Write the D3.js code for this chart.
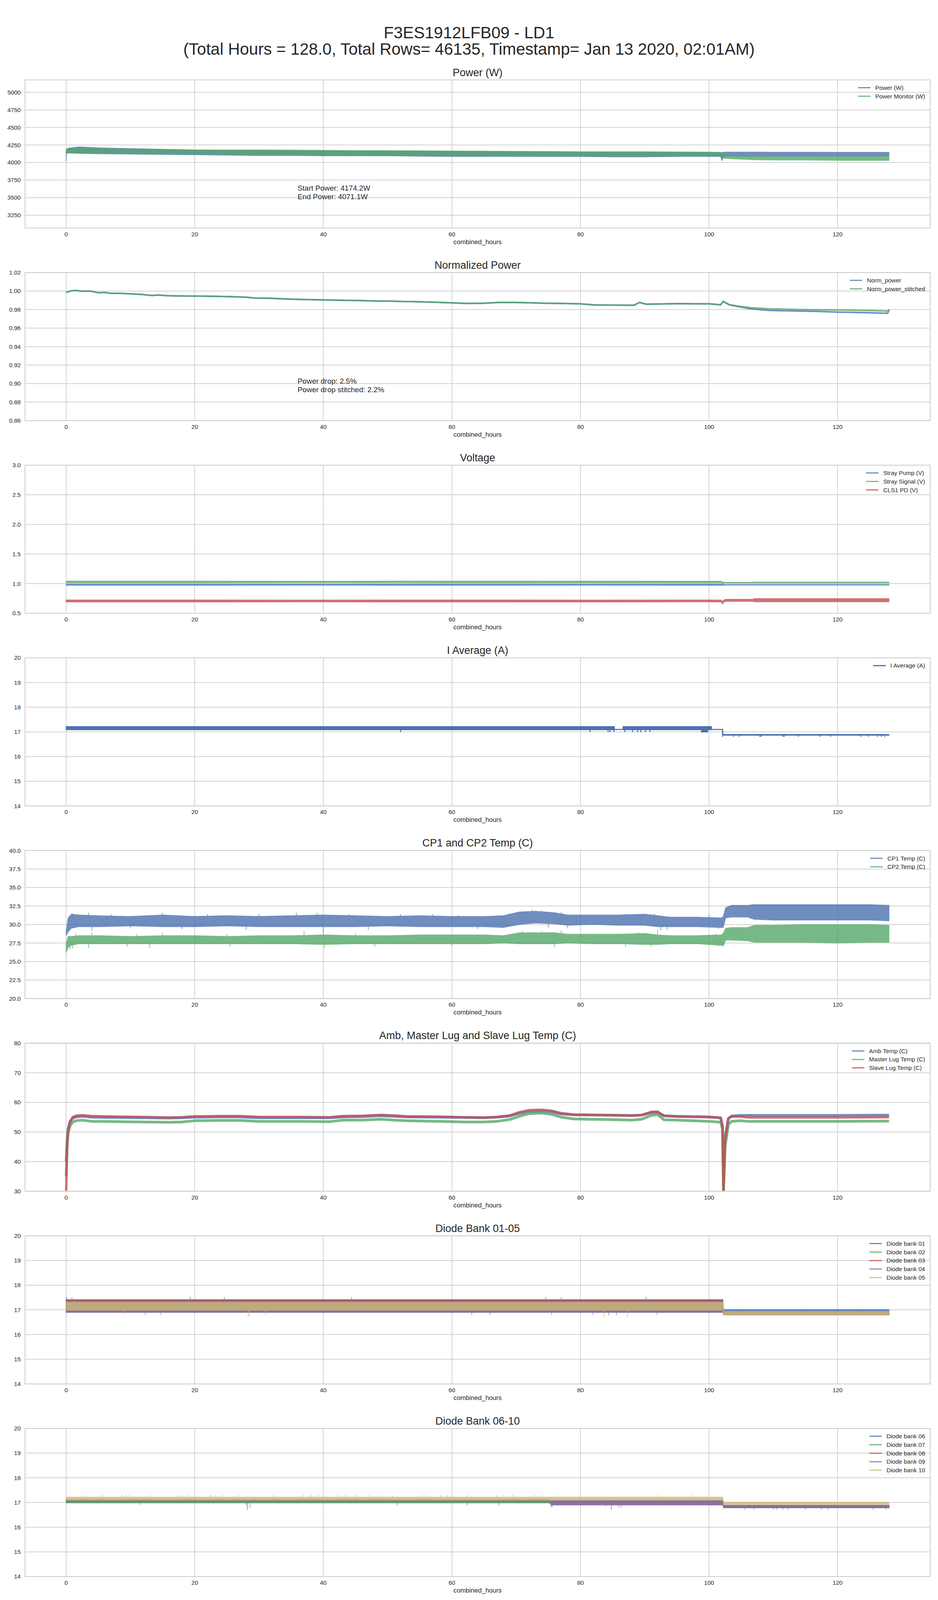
<!DOCTYPE html>
<html><head><meta charset="utf-8">
<script src="https://cdn.jsdelivr.net/npm/d3@7"></script>
<style>
html,body{margin:0;background:#fff;overflow:hidden;}
svg{display:block;}
text{font-family:"Liberation Sans",Arial,sans-serif;fill:#262626;}
</style>
</head><body>
<svg id="chart" width="2400" height="4800"></svg>
<script>
// ---------------- DATA ----------------
const SUPTITLE_1 = "F3ES1912LFB09 - LD1";
const SUPTITLE_2 = "(Total Hours = 128.0, Total Rows= 46135, Timestamp= Jan 13 2020, 02:01AM)";
const X_TICKS = [0, 20, 40, 60, 80, 100, 120];
const X_LABEL = "combined_hours";

// Panel 1: Power (W)  (noisy bands: low / high envelope)
const P_HOURS = [0,0.05,0.3,2,5,10,15,20,25,30, 35,40,45,50,55,60,65,70,75,80, 85,90,95,100,101.8,102.0,102.3,104,107,110, 115,120,125,128];
const POWER_LO = [4020,4130,4135,4130,4125,4120,4115,4110,4105,4100, 4100,4095,4095,4095,4090,4085,4085,4085,4085,4085, 4080,4080,4085,4085,4085,4028,4090,4090,4090,4090, 4090,4090,4090,4090];
const POWER_HI = [4160,4190,4205,4225,4210,4200,4190,4180,4175,4175, 4170,4170,4165,4165,4165,4160,4160,4155,4155,4150, 4150,4150,4145,4145,4145,4140,4150,4150,4150,4148, 4148,4146,4146,4145];
const MON_LO = [4130,4135,4140,4140,4135,4130,4128,4125,4120,4115, 4112,4110,4108,4105,4102,4100,4098,4095,4095,4095, 4095,4095,4095,4095,4095,4090,4060,4050,4040,4035, 4035,4030,4030,4030];
const MON_HI = [4150,4170,4195,4200,4195,4190,4185,4180,4180,4180, 4178,4175,4172,4170,4168,4165,4162,4160,4158,4155, 4155,4155,4152,4150,4145,4140,4110,4100,4090,4085, 4085,4085,4085,4085];
const P_Y_TICKS = [3250,3500,3750,4000,4250,4500,4750,5000];
const P_ANNOT = ["Start Power: 4174.2W", "End Power: 4071.1W"];

// Panel 2: Normalized Power
const NP_HOURS = [0,0.8,1.6,2.5,3.7,5,6,7,8.3,10, 11.6,13.4,14.2,15.8,17,20,23.7,26,27.9,29.3, 31.6,34,36.2,40,43,45.5,48,50.2,52,54.8, 57,59.5,62.3,65,67.3,69.7,72,74.3,77,79.9, 82.3,85,88.3,89.2,90.2,92,95.3,98,100,101.8, 102.2,103.2,104.5,106.5,109.3,111,114,117,120,122, 124.7,127.8,128];
const NORM_POWER = [0.9985,1.0003,1.0006,0.9998,1.0000,0.9982,0.9985,0.9975,0.9976,0.9970, 0.9964,0.9952,0.9957,0.9950,0.9948,0.9946,0.9942,0.9938,0.9934,0.9924, 0.9922,0.9915,0.9910,0.9904,0.9900,0.9898,0.9893,0.9892,0.9888,0.9884, 0.9880,0.9874,0.9866,0.9868,0.9877,0.9877,0.9874,0.9868,0.9866,0.9862, 0.9850,0.9848,0.9846,0.9877,0.9858,0.9860,0.9864,0.9862,0.9862,0.9852, 0.9888,0.9850,0.9832,0.9808,0.9790,0.9788,0.9784,0.9780,0.9772,0.9770, 0.9766,0.9760,0.9800];
const NORM_STITCHED = [0.9985,1.0003,1.0006,0.9998,1.0000,0.9982,0.9985,0.9975,0.9976,0.9970, 0.9964,0.9952,0.9957,0.9950,0.9948,0.9946,0.9942,0.9938,0.9934,0.9924, 0.9922,0.9915,0.9910,0.9904,0.9900,0.9898,0.9893,0.9892,0.9888,0.9884, 0.9880,0.9874,0.9866,0.9868,0.9877,0.9877,0.9874,0.9868,0.9866,0.9862, 0.9850,0.9848,0.9846,0.9877,0.9858,0.9860,0.9864,0.9862,0.9862,0.9852, 0.9888,0.9852,0.9838,0.9820,0.9808,0.9806,0.9800,0.9798,0.9796,0.9794, 0.9790,0.9784,0.9800];
const NP_Y_TICKS = [0.86,0.88,0.90,0.92,0.94,0.96,0.98,1.00,1.02];
const NP_ANNOT = ["Power drop: 2.5%", "Power drop stitched: 2.2%"];

// Panel 3: Voltage
const V_HOURS = [0,0.2,20,40,60,80,100,101.9,102.1,102.3,102.6,106.8,107,128];
const STRAY_PUMP_LO = [0.972,0.972,0.972,0.973,0.972,0.973,0.972,0.972,0.970,0.975,0.975,0.975,0.975,0.975];
const STRAY_PUMP_HI = [0.992,0.993,0.993,0.992,0.993,0.992,0.993,0.992,0.990,0.986,0.986,0.986,0.986,0.986];
const STRAY_SIGNAL_LO = [1.015,1.015,1.015,1.016,1.015,1.015,1.015,1.015,1.000,1.012,1.012,1.012,1.012,1.012];
const STRAY_SIGNAL_HI = [1.040,1.044,1.044,1.043,1.044,1.044,1.043,1.043,1.030,1.024,1.024,1.024,1.027,1.027];
const CLS1_LO = [0.690,0.690,0.690,0.691,0.690,0.690,0.691,0.690,0.655,0.690,0.700,0.700,0.693,0.693];
const CLS1_HI = [0.726,0.726,0.726,0.725,0.726,0.725,0.726,0.724,0.700,0.725,0.737,0.737,0.749,0.749];
const V_Y_TICKS = [0.5,1.0,1.5,2.0,2.5,3.0];

// Panel 4: I Average (A)
const IA_HOURS = [0,85.3,85.31,86.6,86.61,98.8,98.81,99.8,99.81,100.4,100.41,102.15,102.2,128];
const IA_LO = [17.08,17.08,17.09,17.09,17.08,17.08,16.99,16.99,17.08,17.08,17.09,17.09,16.86,16.86];
const IA_HI = [17.22,17.22,17.11,17.11,17.22,17.22,17.22,17.22,17.22,17.22,17.11,17.11,16.90,16.90];
const IA_SPIKE_HOURS = [52.0,81.5,84.3,84.6,85.2,86.9,88.1,88.9,89.4,90.1,90.8, 102.1,103.8,104.7,107.9,108.1,111.5,111.7,113.9,117.3,118.9,123.6,124.8,126.2,126.8,127.3];
const IA_SPIKE_VALS = [16.99,16.99,16.99,16.99,16.99,16.99,16.99,16.99,16.99,16.99,16.99, 16.80,16.80,16.80,16.80,16.80,16.80,16.80,16.80,16.80,16.80,16.80,16.80,16.80,16.80,16.80];
const IA_Y_TICKS = [14,15,16,17,18,19,20];

// Panel 5: CP1 and CP2 Temp (C)
const CP_HOURS = [0,0.3,0.8,2,5,10,15,20,25,30, 35,40,45,50,55,60,65,68,70.5,73, 76,78,82,86,90,92,94,98,101.9,102.2, 102.6,103.5,106,107,110,115,120,125,128];
const CP1_LO = [28.5,29.0,29.5,29.7,29.7,29.8,29.7,29.7,29.8,29.7, 29.7,29.7,29.7,29.8,29.7,29.7,29.7,29.6,30.0,30.2, 30.1,29.9,30.0,29.9,29.9,29.7,29.7,29.7,29.6,29.6, 30.9,31.0,31.0,30.7,30.6,30.6,30.6,30.6,30.5];
const CP1_HI = [29.0,30.9,31.4,31.3,31.2,31.1,31.3,31.1,31.2,31.1, 31.2,31.3,31.2,31.1,31.2,31.1,31.1,31.2,31.7,31.8, 31.6,31.3,31.3,31.3,31.4,31.2,31.0,31.0,30.9,31.1, 32.3,32.6,32.6,32.7,32.7,32.7,32.7,32.7,32.6];
const CP2_LO = [26.2,26.9,27.2,27.4,27.4,27.4,27.4,27.4,27.4,27.4, 27.4,27.3,27.4,27.4,27.4,27.4,27.4,27.5,27.4,27.4, 27.4,27.5,27.4,27.4,27.3,27.3,27.4,27.4,27.2,27.1, 27.9,27.9,27.8,27.6,27.6,27.6,27.5,27.6,27.6];
const CP2_HI = [27.5,28.4,28.4,28.5,28.5,28.4,28.5,28.5,28.4,28.5, 28.5,28.6,28.5,28.5,28.6,28.6,28.6,28.5,28.9,28.9, 28.9,28.7,28.7,28.7,28.8,28.6,28.5,28.5,28.6,28.8, 29.5,29.6,29.6,29.9,29.9,30.0,30.0,30.0,29.9];
const CP1_SPIKE_HOURS = [1,3.5,7,15,17,22,30,35.8,39,44,52,57,61,71.5,72.5,74,77,87,91.5,100, 4,10,18,28,40,47,64,75,78,92.5,93.5,101.5];
const CP1_SPIKE_VALS = [31.5,31.6,31.4,31.6,31.3,31.4,31.4,31.6,31.6,31.4,31.4,31.4,31.3,31.8,32.0,31.9,31.7,31.5,31.5,31.3, 29.2,29.5,29.4,29.3,29.0,29.3,29.4,29.6,29.5,29.2,29.3,29.4];
const CP2_SPIKE_HOURS = [1.5,4,11,15,25,37,40,45,71,74,77,89,92,101, 0.6,1,3.5,9.5,13,25.5,40.2,48,60,76,87,91,101.5];
const CP2_SPIKE_VALS = [28.8,28.9,28.7,28.9,28.7,29.1,29.1,28.8,29.1,29.1,29.2,29.0,29.3,28.8, 26.6,26.8,26.8,27.0,26.8,27.0,26.8,27.0,27.1,26.9,27.0,27.0,27.1];
const CP_Y_TICKS = [20,22.5,25,27.5,30,32.5,35,37.5,40];

// Panel 6: Amb, Master Lug and Slave Lug Temp (C)
const T_HOURS = [0,0.15,0.3,0.6,1,1.5,2.5,4,8,12, 16,18,20,24,27,30,36,41,43,46, 49,51,53,58,62,65,67,69,70.5,72, 74,75.5,77,79,84,88,89.5,91,92,93, 95,100,101.8,102.1,102.25,102.5,103,103.5,105,106, 110,120,128];
const AMB_TEMP = [40,47,51,53.5,54.6,55.1,55.3,55.0,54.9,54.8, 54.7,54.8,55.0,55.1,55.1,54.8,54.8,54.8,55.1,55.2, 55.5,55.3,55.1,55.0,54.9,54.8,55.0,55.4,56.3,56.9, 57.0,56.8,56.1,55.8,55.7,55.6,55.7,56.5,56.6,55.5, 55.3,55.1,54.8,52,30.5,48,54.5,55.4,55.6,55.6, 55.6,55.6,55.7];
const MASTER_LUG = [35,45,49.5,52,53.3,53.8,54.0,53.6,53.5,53.4, 53.3,53.4,53.8,53.9,53.9,53.6,53.6,53.5,54.0,54.0, 54.3,54.0,53.8,53.6,53.4,53.4,53.6,54.2,55.3,56.2, 56.4,56.0,55.0,54.4,54.2,54.0,54.3,55.6,55.9,54.1, 54.0,53.6,53.3,51,30.5,45,52.5,53.6,53.8,53.6, 53.6,53.6,53.7];
const SLAVE_LUG = [30,45,50.5,53.5,55.0,55.5,55.7,55.4,55.2,55.1, 54.9,55.0,55.3,55.4,55.4,55.1,55.1,55.0,55.4,55.5, 55.8,55.6,55.3,55.2,55.0,54.9,55.1,55.6,56.7,57.4, 57.5,57.2,56.4,55.9,55.7,55.5,55.7,56.8,56.9,55.4, 55.2,55.0,54.8,52,30,47,54.5,55.2,55.2,54.9, 54.9,54.9,55.0];
const T_Y_TICKS = [30,40,50,60,70,80];

// Panel 7: Diode Bank 01-05
const D15_HOURS = [0,102.15,102.25,128];
const BANK01_LO = [16.90,16.90,16.93,16.93], BANK01_HI = [17.42,17.42,17.02,17.02];
const BANK02_LO = [16.90,16.90,16.80,16.80], BANK02_HI = [17.40,17.40,16.90,16.90];
const BANK03_LO = [16.90,16.90,16.80,16.80], BANK03_HI = [17.40,17.40,16.90,16.90];
const BANK04_LO = [16.90,16.90,16.80,16.80], BANK04_HI = [17.36,17.36,16.90,16.90];
const BANK05_LO = [16.98,16.98,16.78,16.78], BANK05_HI = [17.31,17.31,16.93,16.93];
const BANK01_SPK_H = [0.1,0.9,19.3,24.6,44.4,74.6,77.0,90.2];
const BANK01_SPK_V = [17.52,17.51,17.52,17.52,17.52,17.51,17.51,17.52];
const BANK02_SPK_H = [12.3,14.7,75.5,91.9];
const BANK02_SPK_V = [16.80,16.80,16.80,16.80];
const BANK03_SPK_H = [104.7,115.0,123.8];
const BANK03_SPK_V = [17.02,17.02,17.02];
const BANK04_SPK_H = [63.1,65.9,81.9,84.4,85.6];
const BANK04_SPK_V = [16.80,16.80,16.80,16.78,16.78];
const BANK05_SPK_H = [9.1,28.3,28.5,31.0,83.7,87.3];
const BANK05_SPK_V = [16.80,16.70,16.75,16.80,16.70,16.70];

// Panel 8: Diode Bank 06-10
const D610_HOURS = [0,75,75.5,102.15,102.25,128];
const BANK06_LO = [17.00,17.00,17.00,17.00,16.78,16.78], BANK06_HI = [17.10,17.10,17.10,17.10,16.88,16.88];
const BANK07_LO = [16.98,16.98,16.98,16.98,16.78,16.78], BANK07_HI = [17.08,17.08,17.08,17.08,16.87,16.87];
const BANK08_LO = [17.04,17.04,16.90,16.90,16.80,16.80], BANK08_HI = [17.12,17.12,17.08,17.08,16.88,16.88];
const BANK09_LO = [17.05,17.05,16.90,16.90,16.79,16.79], BANK09_HI = [17.12,17.12,17.08,17.08,16.89,16.89];
const BANK10_LO = [17.09,17.09,17.09,17.09,16.92,16.92], BANK10_HI = [17.22,17.22,17.22,17.22,17.02,17.02];
const BANK06_SPK_H = [51.5,67.3,84.8,101.7];
const BANK06_SPK_V = [16.88,16.88,16.70,16.88];
const BANK07_SPK_H = [11.5,28.6,75.4,86.4,105.5,107.0,110.0,112.3,115.0,117.5,118.5,125.5,127.5];
const BANK07_SPK_V = [16.90,16.80,16.80,16.80,16.70,16.70,16.70,16.70,16.70,16.70,16.70,16.70,16.70];
const BANK08_SPK_H = [28.2,62.4,83.9];
const BANK08_SPK_V = [16.70,16.88,16.85];
const BANK09_SPK_H = [28.0,75.6,86.0,110.5,111.5];
const BANK09_SPK_V = [16.88,16.80,16.78,16.70,16.70];
const BANK10_SPK_H = [3.0,5.7,8.6,9.3,9.9,13.0,17.6,18.1,18.8,22.5,23.2,24.3,26.8,32.2,36.9,38.1,39.2,42.3,43.4,45.1,47.2,48.6,50.7,55.3,56.0,58.3,59.3,62.4,67.0,68.1,69.5,72.8,74.0,92.1,97.3];
const BANK10_SPK_V = [17.31,17.31,17.31,17.31,17.31,17.31,17.31,17.31,17.31,17.31,17.31,17.31,17.31,17.31,17.31,17.31,17.31,17.31,17.31,17.31,17.31,17.31,17.31,17.31,17.31,17.31,17.31,17.31,17.31,17.31,17.31,17.31,17.31,17.31,17.31];
const DIODE_Y_TICKS = [14,15,16,17,18,19,20];

// ---------------- STYLE / LAYOUT ----------------
const C = {blue:"#4C72B0", green:"#55A868", red:"#C44E52", purple:"#8172B2", khaki:"#CCB974"};
// vertical fit: keep the whole figure inside the visible viewport
const VH = window.innerHeight || 4800;
const S = Math.min(1, (VH - 6) / 4800);
const AX_LEFT = 64, AX_RIGHT = 2380, AX_H = 445*S, TOP0 = 240*S, STEP = 578.8*S;
const GRID = "#cccccc";

const band = (name,color,hours,lo,hi,spH,spV,op) => ({name,color,kind:"band",hours,lo,hi,spH,spV,op:op==null?0.8:op});
const line = (name,color,hours,vals,w) => ({name,color,kind:"line",hours,vals,w,op:0.8});

const panels = [
  {title:"Power (W)", yDomain:[3068,5177], yTicks:P_Y_TICKS, fmt:d3.format("d"), annot:P_ANNOT, annotAt:[36,3600],
   series:[band("Power (W)",C.blue,P_HOURS,POWER_LO,POWER_HI), band("Power Monitor (W)",C.green,P_HOURS,MON_LO,MON_HI)]},
  {title:"Normalized Power", yDomain:[0.86,1.02], yTicks:NP_Y_TICKS, fmt:d3.format(".2f"), annot:NP_ANNOT, annotAt:[36,0.90],
   series:[line("Norm_power",C.blue,NP_HOURS,NORM_POWER,4), line("Norm_power_stitched",C.green,NP_HOURS,NORM_STITCHED,4)]},
  {title:"Voltage", yDomain:[0.5,3.0], yTicks:V_Y_TICKS, fmt:d3.format(".1f"),
   series:[band("Stray Pump (V)",C.blue,V_HOURS,STRAY_PUMP_LO,STRAY_PUMP_HI), band("Stray Signal (V)",C.green,V_HOURS,STRAY_SIGNAL_LO,STRAY_SIGNAL_HI), band("CLS1 PD (V)",C.red,V_HOURS,CLS1_LO,CLS1_HI)]},
  {title:"I Average (A)", yDomain:[14,20], yTicks:IA_Y_TICKS, fmt:d3.format("d"),
   series:[band("I Average (A)",C.blue,IA_HOURS,IA_LO,IA_HI,IA_SPIKE_HOURS,IA_SPIKE_VALS,1)]},
  {title:"CP1 and CP2 Temp (C)", yDomain:[20,40], yTicks:CP_Y_TICKS, fmt:d3.format(".1f"),
   series:[band("CP1 Temp (C)",C.blue,CP_HOURS,CP1_LO,CP1_HI,CP1_SPIKE_HOURS,CP1_SPIKE_VALS), band("CP2 Temp (C)",C.green,CP_HOURS,CP2_LO,CP2_HI,CP2_SPIKE_HOURS,CP2_SPIKE_VALS)]},
  {title:"Amb, Master Lug and Slave Lug Temp (C)", yDomain:[30,80], yTicks:T_Y_TICKS, fmt:d3.format("d"),
   series:[line("Amb Temp (C)",C.blue,T_HOURS,AMB_TEMP,7), line("Master Lug Temp (C)",C.green,T_HOURS,MASTER_LUG,7), line("Slave Lug Temp (C)",C.red,T_HOURS,SLAVE_LUG,6)]},
  {title:"Diode Bank 01-05", yDomain:[14,20], yTicks:DIODE_Y_TICKS, fmt:d3.format("d"),
   series:[band("Diode bank 01",C.blue,D15_HOURS,BANK01_LO,BANK01_HI,BANK01_SPK_H,BANK01_SPK_V),
           band("Diode bank 02",C.green,D15_HOURS,BANK02_LO,BANK02_HI,BANK02_SPK_H,BANK02_SPK_V),
           band("Diode bank 03",C.red,D15_HOURS,BANK03_LO,BANK03_HI,BANK03_SPK_H,BANK03_SPK_V),
           band("Diode bank 04",C.purple,D15_HOURS,BANK04_LO,BANK04_HI,BANK04_SPK_H,BANK04_SPK_V),
           band("Diode bank 05",C.khaki,D15_HOURS,BANK05_LO,BANK05_HI,BANK05_SPK_H,BANK05_SPK_V)]},
  {title:"Diode Bank 06-10", yDomain:[14,20], yTicks:DIODE_Y_TICKS, fmt:d3.format("d"),
   series:[band("Diode bank 06",C.blue,D610_HOURS,BANK06_LO,BANK06_HI,BANK06_SPK_H,BANK06_SPK_V),
           band("Diode bank 07",C.green,D610_HOURS,BANK07_LO,BANK07_HI,BANK07_SPK_H,BANK07_SPK_V),
           band("Diode bank 08",C.red,D610_HOURS,BANK08_LO,BANK08_HI,BANK08_SPK_H,BANK08_SPK_V),
           band("Diode bank 09",C.purple,D610_HOURS,BANK09_LO,BANK09_HI,BANK09_SPK_H,BANK09_SPK_V),
           band("Diode bank 10",C.khaki,D610_HOURS,BANK10_LO,BANK10_HI,BANK10_SPK_H,BANK10_SPK_V)]}
];

// ---------------- DRAW ----------------
const svg = d3.select("#chart").attr("height", Math.round(4800*S));
svg.append("rect").attr("width",2400).attr("height",4800).attr("fill","#fff");
const T1 = S < 1 ? 127*S - 10 : 127;
svg.append("text").attr("x",1200).attr("y",T1).attr("text-anchor","middle").attr("font-size",42).text(SUPTITLE_1);
svg.append("text").attr("x",1200).attr("y",T1 + 44*Math.max(S,0.95)).attr("text-anchor","middle").attr("font-size",42).text(SUPTITLE_2);

const x = d3.scaleLinear().domain([-6.4,134.4]).range([AX_LEFT,AX_RIGHT]);
const defs = svg.append("defs");

panels.forEach((p,pi) => {
  const top = TOP0 + pi*STEP, bot = top + AX_H;
  const y = d3.scaleLinear().domain(p.yDomain).range([bot,top]);
  const g = svg.append("g");
  defs.append("clipPath").attr("id","clip"+pi).append("rect")
    .attr("x",AX_LEFT).attr("y",top).attr("width",AX_RIGHT-AX_LEFT).attr("height",AX_H);

  const grid = g.append("g").attr("stroke",GRID).attr("stroke-width",1.75);
  X_TICKS.forEach(t => grid.append("line").attr("x1",x(t)).attr("x2",x(t)).attr("y1",top).attr("y2",bot));
  p.yTicks.forEach(t => grid.append("line").attr("x1",AX_LEFT).attr("x2",AX_RIGHT).attr("y1",y(t)).attr("y2",y(t)));

  const dg = g.append("g").attr("clip-path",`url(#clip${pi})`);
  p.series.forEach(s => {
    const sg = dg.append("g").attr("opacity",s.op);
    const idx = d3.range(s.hours.length);
    if (s.kind === "band") {
      const area = d3.area().x(i=>x(s.hours[i])).y0(i=>y(s.lo[i])).y1(i=>y(s.hi[i]));
      sg.append("path").attr("d",area(idx)).attr("fill",s.color).attr("stroke",s.color).attr("stroke-width",1.5);
      if (s.spH) {
        const mid = d3.scaleLinear().domain(s.hours).range(s.hours.map((h,i)=>(s.lo[i]+s.hi[i])/2));
        s.spH.forEach((h,i) => {
          sg.append("line").attr("x1",x(h)).attr("x2",x(h)).attr("y1",y(mid(h))).attr("y2",y(s.spV[i]))
            .attr("stroke",s.color).attr("stroke-width",s.op===1?2.5:1.6);
        });
      }
    } else {
      const ln = d3.line().x(i=>x(s.hours[i])).y(i=>y(s.vals[i]));
      sg.append("path").attr("d",ln(idx)).attr("fill","none").attr("stroke",s.color)
        .attr("stroke-width",s.w).attr("stroke-linejoin","round");
    }
  });

  g.append("rect").attr("x",AX_LEFT).attr("y",top).attr("width",AX_RIGHT-AX_LEFT).attr("height",AX_H)
    .attr("fill","none").attr("stroke",GRID).attr("stroke-width",2);

  X_TICKS.forEach(t => g.append("text").attr("x",x(t)).attr("y",bot+21).attr("text-anchor","middle")
    .attr("font-size",15.3).text(t));
  p.yTicks.forEach(t => g.append("text").attr("x",AX_LEFT-11).attr("y",y(t)).attr("dy","0.35em")
    .attr("text-anchor","end").attr("font-size",15.3).text(p.fmt(t)));

  g.append("text").attr("x",(AX_LEFT+AX_RIGHT)/2).attr("y",bot+41).attr("text-anchor","middle")
    .attr("font-size",16.7).text(X_LABEL);
  g.append("text").attr("x",(AX_LEFT+AX_RIGHT)/2).attr("y",top-10).attr("text-anchor","middle")
    .attr("font-size",27).text(p.title);

  if (p.annot) {
    p.annot.forEach((tx,i) => g.append("text").attr("x",x(p.annotAt[0])).attr("y",y(p.annotAt[1])+i*22)
      .attr("font-size",19).text(tx));
  }

  const lg = g.append("g");
  const texts = p.series.map((s,i) => lg.append("text").attr("y",top+20+i*21.7).attr("dy","0.35em")
    .attr("font-size",15.3).text(s.name));
  const maxW = d3.max(texts, t => t.node().getComputedTextLength());
  const tx = AX_RIGHT - 13 - maxW;
  texts.forEach(t => t.attr("x",tx));
  p.series.forEach((s,i) => lg.append("line").attr("x1",tx-44).attr("x2",tx-12)
    .attr("y1",top+20+i*21.7).attr("y2",top+20+i*21.7).attr("stroke",s.color)
    .attr("stroke-opacity",s.op).attr("stroke-width",3));
});
</script>
</body></html>
